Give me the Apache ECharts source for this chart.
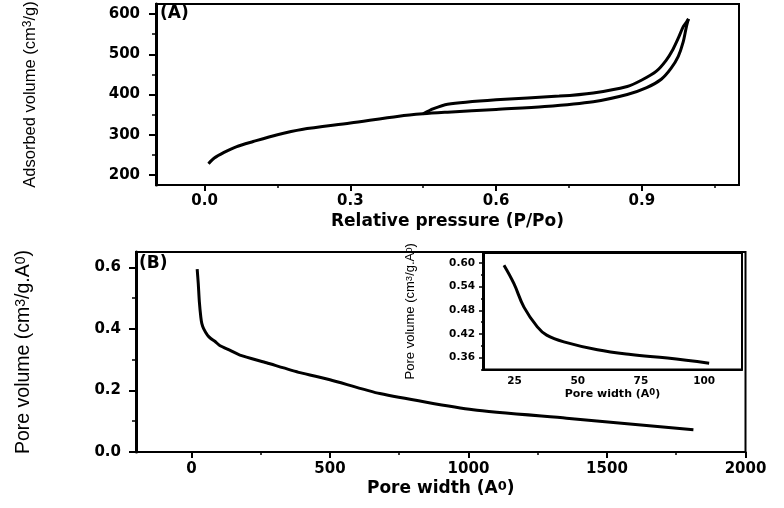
<!DOCTYPE html>
<html><head><meta charset="utf-8">
<script src="https://cdn.jsdelivr.net/npm/echarts@6/dist/echarts.min.js"></script>
<style>html,body{margin:0;padding:0;background:#fff}#c{width:784px;height:508px}</style>
</head><body><div id="c"></div>
<script>
// ---- Panel A: N2 adsorption / desorption isotherm ----
const adsP = [0.008, 0.02, 0.04, 0.065, 0.1, 0.15, 0.2, 0.3, 0.4, 0.45, 0.5, 0.6, 0.7, 0.8, 0.87, 0.91, 0.94, 0.96, 0.975, 0.985, 0.992, 0.996];
const adsV = [228, 242, 256, 270, 283, 300, 313, 329, 346, 352, 356, 363, 370, 382, 400, 417, 438, 465, 495, 530, 570, 588];
const desP = [0.996, 0.992, 0.985, 0.975, 0.964, 0.95, 0.93, 0.9, 0.87, 0.8, 0.73, 0.6, 0.5, 0.47, 0.45];
const desV = [588, 580, 568, 540, 512, 485, 458, 436, 420, 404, 396, 387, 376, 364, 352];
const aXTicks = [0, 0.3, 0.6, 0.9];
const aXMinor = [0.15, 0.45, 0.75, 1.05];
const aYTicks = [200, 300, 400, 500, 600];
const aYMinor = [250, 350, 450, 550];

// ---- Panel B: pore size distribution ----
const poreW = [20.8, 24.7, 28.7, 34, 37.7, 44.5, 57.8, 71, 85.5, 102, 140, 175, 271, 392, 500, 680, 1017, 1354, 1812];
const poreV = [0.594, 0.548, 0.488, 0.438, 0.417, 0.40, 0.38, 0.368, 0.359, 0.346, 0.33, 0.315, 0.290, 0.258, 0.235, 0.19, 0.137, 0.11, 0.072];
const bXTicks = [0, 500, 1000, 1500, 2000];
const bXMinor = [250, 750, 1250, 1750];
const bYTicks = [0, 0.2, 0.4, 0.6];
const bYMinor = [0.1, 0.3, 0.5];

// ---- Inset ----
const insetW = [20.8, 24.7, 28.7, 34, 37.7, 44.5, 57.8, 71, 85.5, 102];
const insetV = [0.594, 0.548, 0.488, 0.438, 0.417, 0.40, 0.38, 0.368, 0.359, 0.346];
const iXTicks = [25, 50, 75, 100];
const iYTicks = [0.36, 0.42, 0.48, 0.54, 0.60];
const iYMinor = [0.33, 0.39, 0.45, 0.51, 0.57];

const zip = (a, b) => a.map((v, i) => [v, b[i]]);
const BOLD = "'DejaVu Sans', sans-serif";
const REG = "'Liberation Sans', Arial, sans-serif";

function majorX(grid, min, max, ticks, o) {
  return Object.assign({
    type: 'value', gridIndex: grid, min: min, max: max, position: 'bottom',
    axisLine: { show: true, onZero: false, lineStyle: { color: '#000', width: 2 } },
    axisTick: { show: true, inside: false, length: 6, customValues: ticks, lineStyle: { color: '#000', width: 2 } },
    axisLabel: { customValues: ticks, color: '#000', fontFamily: BOLD, fontWeight: 'bold', fontSize: 15, margin: 9, formatter: v => String(v) },
    splitLine: { show: false }, minorTick: { show: false }
  }, o || {});
}
function minorAxis(kind, grid, min, max, ticks, len) {
  return {
    type: 'value', gridIndex: grid, min: min, max: max, position: kind === 'x' ? 'bottom' : 'left',
    axisLine: { show: false, onZero: false },
    axisTick: { show: true, inside: false, length: len, customValues: ticks, lineStyle: { color: '#000', width: 1.5 } },
    axisLabel: { show: false, customValues: ticks },
    splitLine: { show: false }
  };
}
function majorY(grid, min, max, ticks, o) {
  return Object.assign({
    type: 'value', gridIndex: grid, min: min, max: max, position: 'left',
    axisLine: { show: true, onZero: false, lineStyle: { color: '#000', width: 3 } },
    axisTick: { show: true, inside: false, length: 7, customValues: ticks, lineStyle: { color: '#000', width: 2 } },
    axisLabel: { customValues: ticks, color: '#000', fontFamily: BOLD, fontWeight: 'bold', fontSize: 15, margin: 16, formatter: v => String(v) },
    splitLine: { show: false }
  }, o || {});
}

const gridBase = { show: true, borderColor: '#000', borderWidth: 2, backgroundColor: '#fff', containLabel: false, outerBoundsMode: 'none' };

const option = {
  animation: false,
  backgroundColor: '#fff',
  grid: [
    Object.assign({ left: 156, right: 45, top: 4, bottom: 323 }, gridBase),
    Object.assign({ left: 136, right: 38.5, top: 252, bottom: 56 }, gridBase),
    Object.assign({ left: 483, right: 42, top: 253, bottom: 138.5, z: 5 }, gridBase)
  ],
  xAxis: [
    majorX(0, -0.1, 1.1, aXTicks, {
      axisLabel: { customValues: aXTicks, color: '#000', fontFamily: BOLD, fontWeight: 'bold', fontSize: 15, margin: 9, formatter: v => v.toFixed(1) },
      name: 'Relative pressure (P/Po)', nameLocation: 'middle', nameGap: 28,
      nameTextStyle: { color: '#000', fontFamily: BOLD, fontWeight: 'bold', fontSize: 17 }
    }),
    minorAxis('x', 0, -0.1, 1.1, aXMinor, 3),
    majorX(1, -200, 2000, bXTicks, {
      axisLabel: { customValues: bXTicks, color: '#000', fontFamily: BOLD, fontWeight: 'bold', fontSize: 15, margin: 10, formatter: v => String(v) },
      name: 'Pore width (A{s|0})', nameLocation: 'middle', nameGap: 28,
      nameTextStyle: { color: '#000', fontFamily: BOLD, fontWeight: 'bold', fontSize: 17, rich: { s: { fontSize: 13, verticalAlign: 'top', fontWeight: 'bold', fontFamily: BOLD } } }
    }),
    minorAxis('x', 1, -200, 2000, bXMinor, 3),
    {
      type: 'value', gridIndex: 2, min: 12.5, max: 115, position: 'bottom', z: 6,
      axisLine: { show: true, onZero: false, lineStyle: { color: '#000', width: 2 } },
      axisTick: { show: false },
      axisLabel: { customValues: iXTicks, color: '#000', fontFamily: BOLD, fontWeight: 'bold', fontSize: 10.5, margin: 6, formatter: v => String(v) },
      splitLine: { show: false },
      name: 'Pore width (A{s|0})', nameLocation: 'middle', nameGap: 19,
      nameTextStyle: { color: '#000', fontFamily: BOLD, fontWeight: 'bold', fontSize: 11, rich: { s: { fontSize: 8.5, verticalAlign: 'top', fontWeight: 'bold', fontFamily: BOLD } } }
    }
  ],
  yAxis: [
    majorY(0, 175, 625, aYTicks, {
      name: 'Adsorbed volume (cm{s|3}/g)', nameLocation: 'middle', nameGap: 117,
      nameTextStyle: { color: '#000', fontFamily: REG, fontSize: 16.5, rich: { s: { fontSize: 12, verticalAlign: 'top', fontFamily: REG } } }
    }),
    minorAxis('y', 0, 175, 625, aYMinor, 4),
    majorY(1, 0, 0.65, bYTicks, {
      axisLabel: { customValues: bYTicks, color: '#000', fontFamily: BOLD, fontWeight: 'bold', fontSize: 15, margin: 15, formatter: v => v.toFixed(1) },
      name: 'Pore volume (cm{s|3}/g.A{s|0})', nameLocation: 'middle', nameGap: 102,
      nameTextStyle: { color: '#000', fontFamily: REG, fontSize: 19.5, rich: { s: { fontSize: 14, verticalAlign: 'top', fontFamily: REG } } }
    }),
    minorAxis('y', 1, 0, 0.65, bYMinor, 4),
    majorY(2, 0.33, 0.625, iYTicks, {
      z: 6,
      axisLine: { show: true, onZero: false, lineStyle: { color: '#000', width: 3 } },
      axisTick: { show: true, inside: false, length: 4, customValues: iYTicks, lineStyle: { color: '#000', width: 1.5 } },
      axisLabel: { customValues: iYTicks, color: '#000', fontFamily: BOLD, fontWeight: 'bold', fontSize: 10.5, margin: 8, formatter: v => v.toFixed(2) },
      name: 'Pore volume (cm{s|3}/g.A{s|0})', nameLocation: 'middle', nameGap: 66,
      nameTextStyle: { color: '#000', fontFamily: REG, fontSize: 13, rich: { s: { fontSize: 9.5, verticalAlign: 'top', fontFamily: REG } } }
    }),
    Object.assign(minorAxis('y', 2, 0.33, 0.625, iYMinor, 2), { z: 6 })
  ],
  series: [
    { type: 'line', name: 'Adsorption', xAxisIndex: 0, yAxisIndex: 0, data: zip(adsP, adsV), showSymbol: false, smooth: 0.3, lineStyle: { color: '#000', width: 3 } },
    { type: 'line', name: 'Desorption', xAxisIndex: 0, yAxisIndex: 0, data: zip(desP, desV), showSymbol: false, smooth: 0.2, lineStyle: { color: '#000', width: 3 } },
    { type: 'line', name: 'PSD', xAxisIndex: 2, yAxisIndex: 2, data: zip(poreW, poreV), showSymbol: false, smooth: 0.2, lineStyle: { color: '#000', width: 3 } },
    { type: 'line', name: 'PSD inset', xAxisIndex: 4, yAxisIndex: 4, data: zip(insetW, insetV), showSymbol: false, smooth: 0.4, z: 7, lineStyle: { color: '#000', width: 3 } }
  ],
  graphic: [
    { type: 'text', left: 160, top: 5, style: { text: '(A)', fill: '#000', font: "bold 17px 'DejaVu Sans', sans-serif" } },
    { type: 'text', left: 139, top: 255, style: { text: '(B)', fill: '#000', font: "bold 17px 'DejaVu Sans', sans-serif" } }
  ]
};
const chart = echarts.init(document.getElementById('c'), null, { renderer: 'canvas', width: 784, height: 508 });
chart.setOption(option);
</script></body></html>
